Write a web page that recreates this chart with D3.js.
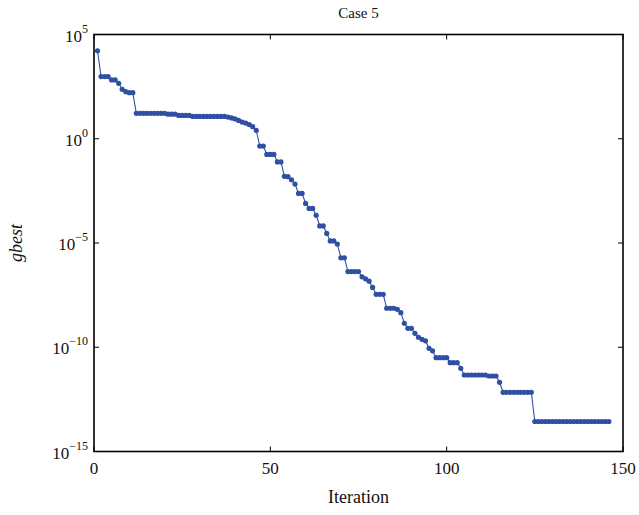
<!DOCTYPE html>
<html>
<head>
<meta charset="utf-8">
<script src="https://cdn.jsdelivr.net/npm/d3@7"></script>
<style>
  html, body { margin: 0; padding: 0; background: #fff; }
  svg { display: block; }
  text { font-family: "Liberation Serif", "DejaVu Serif", serif; fill: #111; }
</style>
</head>
<body>
<svg id="chart" width="639" height="515"></svg>
<script>
// gbest per iteration, stored as base-10 exponents
const iterStart = 1;
const gbestExp = [
  4.22, 2.98, 2.98, 2.98, 2.82, 2.82, 2.66, 2.37, 2.26, 2.21,
  2.21, 1.22, 1.22, 1.22, 1.22, 1.22, 1.22, 1.22, 1.22, 1.22,
  1.18, 1.18, 1.18, 1.12, 1.12, 1.12, 1.12, 1.07, 1.07, 1.07,
  1.07, 1.07, 1.07, 1.07, 1.07, 1.07, 1.07, 1.04, 1.00, 0.95,
  0.88, 0.80, 0.75, 0.68, 0.58, 0.40, -0.35, -0.35, -0.75, -0.75,
  -0.75, -1.11, -1.11, -1.80, -1.82, -1.97, -2.17, -2.62, -2.62, -3.10,
  -3.34, -3.34, -3.67, -4.18, -4.18, -4.54, -4.90, -4.90, -5.05, -5.71,
  -5.71, -6.37, -6.37, -6.37, -6.37, -6.62, -6.72, -6.83, -7.13, -7.46,
  -7.46, -7.46, -8.13, -8.13, -8.13, -8.18, -8.34, -8.85, -9.09, -9.09,
  -9.33, -9.52, -9.62, -9.69, -10.05, -10.17, -10.50, -10.50, -10.50, -10.50,
  -10.74, -10.74, -10.74, -11.01, -11.33, -11.33, -11.33, -11.33, -11.33, -11.33,
  -11.33, -11.38, -11.38, -11.38, -11.68, -12.16, -12.16, -12.16, -12.16, -12.16,
  -12.16, -12.16, -12.16, -12.16, -13.56, -13.56, -13.56, -13.56, -13.56, -13.56,
  -13.56, -13.56, -13.56, -13.56, -13.56, -13.56, -13.56, -13.56, -13.56, -13.56,
  -13.56, -13.56, -13.56, -13.56, -13.56, -13.56
];
const xTicks = [0, 50, 100, 150];
const yTickExp = [5, 0, -5, -10, -15];
const titleText = "Case 5";
const xLabel = "Iteration";
const yLabel = "gbest";

const data = gbestExp.map((e, i) => ({ iter: iterStart + i, value: Math.pow(10, e) }));

const svg = d3.select("#chart");
const W = 639, H = 515;
const margin = { left: 94, right: 16, top: 34.5, bottom: 63.5 };
const iw = W - margin.left - margin.right;
const ih = H - margin.top - margin.bottom;

const x = d3.scaleLinear().domain([0, 150]).range([0, iw]);
const y = d3.scaleLog().domain([1e-15, 1e5]).range([ih, 0]);

const g = svg.append("g").attr("transform", `translate(${margin.left},${margin.top})`);

const color = "#2f4fa4";

// series line
g.append("path")
  .datum(data)
  .attr("fill", "none")
  .attr("stroke", color)
  .attr("stroke-width", 1.1)
  .attr("d", d3.line().x(d => x(d.iter)).y(d => y(d.value)));

// markers
g.selectAll("circle.pt")
  .data(data)
  .join("circle")
  .attr("class", "pt")
  .attr("cx", d => x(d.iter))
  .attr("cy", d => y(d.value))
  .attr("r", 2.6)
  .attr("fill", color);

// inward ticks on all four sides
const tickLen = 5;
const tickG = g.append("g").attr("stroke", "#000").attr("stroke-width", 1);
xTicks.forEach(t => {
  tickG.append("line").attr("x1", x(t)).attr("x2", x(t)).attr("y1", ih).attr("y2", ih - tickLen);
  tickG.append("line").attr("x1", x(t)).attr("x2", x(t)).attr("y1", 0).attr("y2", tickLen);
});
yTickExp.forEach(e => {
  const yy = y(Math.pow(10, e));
  tickG.append("line").attr("x1", 0).attr("x2", tickLen).attr("y1", yy).attr("y2", yy);
  tickG.append("line").attr("x1", iw).attr("x2", iw - tickLen).attr("y1", yy).attr("y2", yy);
});

// frame
g.append("rect")
  .attr("x", 0).attr("y", 0).attr("width", iw).attr("height", ih)
  .attr("fill", "none").attr("stroke", "#000").attr("stroke-width", 1.6);

// x tick labels
g.selectAll("text.xt")
  .data(xTicks)
  .join("text")
  .attr("class", "xt")
  .attr("x", d => x(d))
  .attr("y", ih + 22)
  .attr("text-anchor", "middle")
  .attr("font-size", 17)
  .text(d => d);

// y tick labels with superscript exponent
yTickExp.forEach(e => {
  const t = g.append("text")
    .attr("x", -6)
    .attr("y", y(Math.pow(10, e)) + 7)
    .attr("text-anchor", "end")
    .attr("font-size", 17);
  t.append("tspan").text("10");
  t.append("tspan")
    .attr("dy", -9)
    .attr("font-size", 12)
    .text(e < 0 ? "\u2212" + Math.abs(e) : String(e));
});

// title
svg.append("text")
  .attr("x", margin.left + iw / 2)
  .attr("y", 18)
  .attr("text-anchor", "middle")
  .attr("font-size", 15)
  .text(titleText);

// axis labels
svg.append("text")
  .attr("x", margin.left + iw / 2)
  .attr("y", 503)
  .attr("text-anchor", "middle")
  .attr("font-size", 18)
  .text(xLabel);

svg.append("text")
  .attr("transform", `translate(22,${margin.top + ih / 2}) rotate(-90)`)
  .attr("text-anchor", "middle")
  .attr("font-size", 18)
  .attr("font-style", "italic")
  .text(yLabel);
</script>
</body>
</html>
